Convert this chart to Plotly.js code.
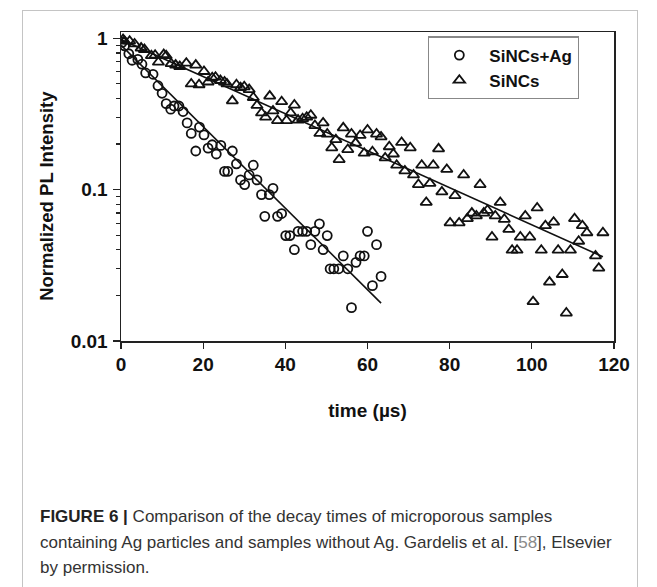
<!DOCTYPE html>
<html>
<head>
<meta charset="utf-8">
<script src="https://cdn.plot.ly/plotly-3.0.1.min.js"></script>
<style>
  html, body { margin: 0; padding: 0; background: #fff; }
  #wrap { position: relative; width: 657px; height: 587px; overflow: hidden; }
  #frame { position: absolute; left: 22px; top: 10px; width: 614px; height: 600px; border: 1px solid #c4c4c4; }
  #chart { position: absolute; left: 0; top: 0; width: 657px; height: 587px; }
  #caption { position: absolute; left: 40px; top: 504px; width: 572px; font-family: "Liberation Sans", Arial, sans-serif; font-size: 17px; line-height: 25.5px; color: #333; }
  #caption b { color: #222; }
  #caption .ref { color: #8a8a8a; }
</style>
</head>
<body>
<div id="wrap">
  <div id="frame"></div>
  <div id="chart"></div>
  <div id="caption"><b>FIGURE 6 |</b> Comparison of the decay times of microporous samples containing Ag particles and samples without Ag. Gardelis et al. [<span class="ref">58</span>], Elsevier by permission.</div>
</div>
<script>
// SiNCs+Ag (circles)
const agTime = [0.3,0.85,1.9,2.7,4.1,5.1,6.0,7.8,9.0,10.0,11.0,12.1,12.9,14.1,15.1,16.1,17.1,18.2,19.1,20.2,21.2,22.2,23.2,24.3,25.2,26.0,27.1,28.1,29.1,30.1,31.2,32.2,33.1,34.2,35.0,36.1,37.0,38.1,39.1,40.1,41.1,42.2,43.1,44.2,45.2,46.2,47.2,48.3,49.2,50.2,50.9,51.8,53.0,54.1,55.2,56.1,57.2,58.2,59.2,60.0,61.2,62.2,63.3];
const agIntensity = [0.94,0.89,0.79,0.716,0.725,0.674,0.59,0.578,0.486,0.433,0.37,0.34,0.357,0.357,0.328,0.276,0.235,0.18,0.259,0.23,0.188,0.198,0.172,0.196,0.132,0.132,0.18,0.148,0.116,0.108,0.125,0.145,0.116,0.0927,0.0666,0.0927,0.102,0.0666,0.0695,0.0497,0.0497,0.0401,0.053,0.053,0.053,0.0433,0.053,0.0594,0.0401,0.0497,0.030,0.030,0.030,0.0365,0.030,0.0166,0.0331,0.0365,0.0365,0.053,0.0232,0.0433,0.0267];

// SiNCs (triangles)
const siTime = [0.5,0.85,2.1,3.3,4.9,5.7,7.4,8.3,9.1,10.4,11.0,12.2,13.3,14.3,15.9,17.1,18.2,19.0,20.2,21.2,22.2,23.0,24.2,25.2,25.8,27.1,28.1,29.1,30.0,31.2,32.2,33.1,34.2,35.2,36.2,37.0,38.1,39.1,40.3,41.3,42.2,43.1,44.2,45.2,46.2,47.2,48.4,49.2,50.2,51.3,52.3,53.1,54.1,55.2,56.1,57.1,58.2,59.2,60.0,61.2,62.2,63.3,64.3,65.3,66.3,67.1,68.3,69.1,70.4,71.2,72.4,73.2,74.3,75.2,76.0,77.3,78.1,79.3,80.1,81.3,82.3,83.4,84.3,85.4,86.5,87.4,88.3,89.2,90.3,91.1,92.3,93.3,94.4,95.2,96.4,97.2,98.4,99.5,100.3,101.3,102.3,103.3,104.3,105.3,106.4,107.4,108.4,109.4,110.4,111.4,112.3,113.4,115.5,116.3,117.3];
const siIntensity = [0.98,0.957,0.957,0.918,0.861,0.843,0.767,0.773,0.695,0.78,0.767,0.68,0.665,0.651,0.685,0.499,0.665,0.493,0.603,0.514,0.548,0.553,0.526,0.514,0.499,0.386,0.493,0.472,0.478,0.458,0.406,0.36,0.321,0.301,0.415,0.331,0.286,0.381,0.286,0.321,0.362,0.288,0.294,0.301,0.31,0.265,0.235,0.276,0.233,0.189,0.214,0.158,0.256,0.184,0.233,0.203,0.228,0.174,0.248,0.178,0.233,0.223,0.162,0.192,0.172,0.145,0.205,0.133,0.189,0.125,0.108,0.145,0.0824,0.11,0.145,0.186,0.0966,0.136,0.0603,0.0914,0.0603,0.125,0.0643,0.070,0.0671,0.108,0.070,0.073,0.0486,0.0671,0.0824,0.0637,0.0546,0.0398,0.0398,0.0486,0.0671,0.0486,0.0182,0.0757,0.0398,0.0578,0.0245,0.061,0.0398,0.0275,0.0153,0.0398,0.0643,0.0456,0.0578,0.0519,0.0365,0.0303,0.0519];

// single-exponential fit lines (end points)
const agFitTime = [0, 63.3];
const agFitIntensity = [0.90, 0.0178];
const siFitTime = [0, 117.3];
const siFitIntensity = [0.98, 0.036];

// axis ticks and titles
const xTickVals = [0, 20, 40, 60, 80, 100, 120];
const yTickVals = [0.01, 0.1, 1];
const yTickText = ["0.01", "0.1", "1"];
const yMinorVals = [0.02,0.03,0.04,0.05,0.06,0.07,0.08,0.09,0.2,0.3,0.4,0.5,0.6,0.7,0.8,0.9];
const xTitle = "time (µs)";
const yTitle = "Normalized PL Intensity";

const FONT = "Liberation Sans, Arial, Helvetica, sans-serif";
const boldFont = (s) => ({family: FONT, size: s, color: "#111", weight: "bold"});

const traces = [
  {x: agFitTime, y: agFitIntensity, mode: "lines", line: {color: "#111", width: 1.6}, showlegend: false, hoverinfo: "skip"},
  {x: siFitTime, y: siFitIntensity, mode: "lines", line: {color: "#111", width: 1.6}, showlegend: false, hoverinfo: "skip"},
  {x: agTime, y: agIntensity, mode: "markers", name: "SiNCs+Ag",
   marker: {symbol: "circle-open", size: 9, color: "#111", line: {width: 1.8, color: "#111"}}},
  {x: siTime, y: siIntensity, mode: "markers", name: "SiNCs",
   marker: {symbol: "triangle-up-open", size: 10, color: "#111", line: {width: 1.8, color: "#111"}}}
];

const layout = {
  width: 657, height: 587,
  margin: {l: 121, r: 43, t: 32, b: 246, pad: 0},
  paper_bgcolor: "rgba(0,0,0,0)", plot_bgcolor: "#fff",
  font: {family: FONT, color: "#111"},
  xaxis: {
    range: [0, 120], tickvals: xTickVals, ticks: "outside", ticklen: 6, tickwidth: 1.3,
    tickcolor: "#222", showline: true, linecolor: "#222", linewidth: 1.5, mirror: true,
    showgrid: false, zeroline: false, tickfont: boldFont(19),
    title: {text: xTitle, font: boldFont(19), standoff: 29}
  },
  yaxis: {
    type: "log", range: [-2, 0.0414], tickvals: yTickVals, ticktext: yTickText,
    ticks: "outside", ticklen: 7, tickwidth: 1.3, tickcolor: "#222", ticklabelstandoff: 1,
    minor: {tickvals: yMinorVals, ticks: "outside", ticklen: 3.5, tickwidth: 1.2, tickcolor: "#222", showgrid: false},
    showline: true, linecolor: "#222", linewidth: 1.5, mirror: true,
    showgrid: false, zeroline: false, tickfont: boldFont(19)
  },
  annotations: [{
    text: yTitle, textangle: -90, xref: "paper", yref: "paper",
    x: -0.150, y: 0.47, xanchor: "center", yanchor: "middle", showarrow: false,
    font: boldFont(18.5)
  }],
  legend: {
    x: 0.623, y: 0.986, xanchor: "left", yanchor: "top",
    bgcolor: "#fff", bordercolor: "#888", borderwidth: 1.2,
    font: boldFont(17), itemwidth: 50, tracegroupgap: 0
  },
  showlegend: true
};

Plotly.newPlot("chart", traces, layout, {displayModeBar: false, staticPlot: true});
</script>
</body>
</html>
